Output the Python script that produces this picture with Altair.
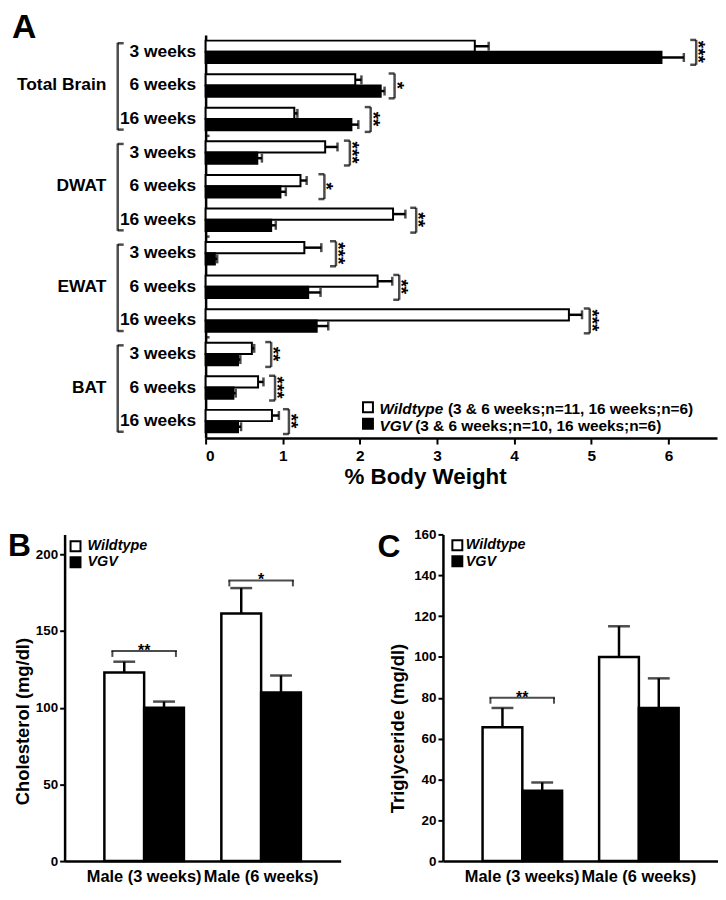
import altair as alt
import pandas as pd

FONT = "Liberation Sans"

# ---------------- Panel A data ----------------
tissues = ["Total Brain", "DWAT", "EWAT", "BAT"]
ages = ["3 weeks", "6 weeks", "16 weeks"]
genos = ["Wildtype", "VGV"]
wt_mean = [3.49, 1.94, 1.15, 1.55, 1.23, 2.43, 1.28, 2.23, 4.71, 0.60, 0.68, 0.86]
wt_sem = [0.18, 0.08, 0.04, 0.16, 0.08, 0.16, 0.22, 0.19, 0.17, 0.03, 0.07, 0.09]
vgv_mean = [5.91, 2.27, 1.89, 0.67, 0.97, 0.85, 0.12, 1.33, 1.44, 0.42, 0.36, 0.42]
vgv_sem = [0.29, 0.05, 0.09, 0.06, 0.07, 0.06, 0.03, 0.16, 0.15, 0.03, 0.03, 0.04]
sig_a = ["***", "*", "**", "***", "*", "**", "***", "**", "***", "**", "***", "**"]
sig_a_x = [6.36, 2.45, 2.14, 1.87, 1.54, 2.73, 1.69, 2.51, 4.98, 0.85, 0.90, 1.08]
x_ticks_a = [0, 1, 2, 3, 4, 5, 6]
leg_a_names = ["Wildtype", "VGV"]
leg_a_notes = ["(3 & 6 weeks;n=11, 16 weeks;n=6)", "(3 & 6 weeks;n=10, 16 weeks;n=6)"]

# ---------------- Panel B / C data ----------------
groups = ["Male (3 weeks)", "Male (6 weeks)"]
chol_wt = [123, 161.5]
chol_wt_sem = [7, 16.5]
chol_vgv = [100, 110]
chol_vgv_sem = [4, 11]
chol_sig_groups = ["Male (3 weeks)", "Male (6 weeks)"]
chol_sig_y = [137, 183]
chol_sig = ["**", "*"]
chol_ticks = [0, 50, 100, 150, 200]

tg_wt = [65.5, 100]
tg_wt_sem = [9.5, 15]
tg_vgv = [34.5, 75]
tg_vgv_sem = [4, 14.5]
tg_sig_groups = ["Male (3 weeks)"]
tg_sig_y = [80]
tg_sig = ["**"]
tg_ticks = [0, 20, 40, 60, 80, 100, 120, 140, 160]

# ---------------- Panel A ----------------
A_W, A_H = 515, 406
rows = [f"{t}|{a}" for t in tissues for a in ages]
recs = []
for i, r in enumerate(rows):
    recs.append(dict(row=r, genotype="Wildtype", value=wt_mean[i], upper=wt_mean[i] + wt_sem[i]))
    recs.append(dict(row=r, genotype="VGV", value=vgv_mean[i], upper=vgv_mean[i] + vgv_sem[i]))
dfA = pd.DataFrame(recs)
dfA_sig = pd.DataFrame(dict(row=rows, sig_x=sig_a_x, stars=sig_a))
dfA_grp = pd.DataFrame(dict(row=[f"{t}|6 weeks" for t in tissues], group=tissues))
dfA_sep = pd.DataFrame(dict(row=[f"{t}|16 weeks" for t in tissues[:3]], zero=[0, 0, 0]))

scaleA_y = alt.Scale(domain=rows, paddingInner=0.33, paddingOuter=0.17)
axisA_y = alt.Axis(title=None, labelExpr="split(datum.label, '|')[1]", ticks=False,
                   labelPadding=10, labelFontSize=17.5)
scaleA_x = alt.Scale(domain=[0, 6.63], nice=False, zero=True)
axisA_x = alt.Axis(values=x_ticks_a, tickSize=6, labelPadding=5, labelFontSize=15.5,
                   title="% Body Weight", titleFontSize=22.5, titleX=221, titleY=28,
                   titleBaseline="top", titleAlign="center")


def yA():
    return alt.Y("row:N", scale=scaleA_y, axis=axisA_y, title=None)


def xA(field):
    return alt.X(f"{field}:Q", scale=scaleA_x, axis=axisA_x, title="% Body Weight")


yoffA = alt.YOffset("genotype:N", scale=alt.Scale(domain=genos, paddingInner=0, paddingOuter=0))
fill_scale = alt.Scale(domain=genos, range=["white", "black"])

barsA = alt.Chart(dfA).mark_bar(stroke="black", strokeWidth=2).encode(
    x=xA("value"), y=yA(), yOffset=yoffA,
    fill=alt.Fill("genotype:N", scale=fill_scale, legend=None))
errA = alt.Chart(dfA).mark_rule(color="black", strokeWidth=2.5).encode(
    x=xA("value"), x2="upper", y=yA(), yOffset=yoffA)
capA = alt.Chart(dfA).mark_tick(orient="vertical", color="black", size=9, thickness=2.5).encode(
    x=xA("upper"), y=yA(), yOffset=yoffA)

sigA_v = alt.Chart(dfA_sig).mark_tick(orient="vertical", color="black", size=25, thickness=2.5,
                                      yOffset=0.5).encode(x=xA("sig_x"), y=yA())
sigA_t = alt.Chart(dfA_sig).mark_tick(orient="horizontal", color="black", size=6, thickness=2.5,
                                      xOffset=-3, yOffset=-12).encode(x=xA("sig_x"), y=yA())
sigA_b = alt.Chart(dfA_sig).mark_tick(orient="horizontal", color="black", size=6, thickness=2.5,
                                      xOffset=-3, yOffset=13).encode(x=xA("sig_x"), y=yA())
sigA_s = alt.Chart(dfA_sig).mark_text(angle=90, fontSize=19, fontWeight="bold", font=FONT,
                                      color="black", align="center", baseline="middle",
                                      xOffset=2).encode(x=xA("sig_x"), y=yA(), text="stars:N")
sepA = alt.Chart(dfA_sep).mark_tick(orient="horizontal", color="black", size=4, thickness=2.5,
                                    xOffset=2, yOffset=17).encode(x=xA("zero"), y=yA())

grp_text = alt.Chart(dfA_grp).mark_text(align="right", baseline="middle", fontSize=17.5,
                                        fontWeight="bold", font=FONT, color="black").encode(
    x=alt.value(-100), y=yA(), text="group:N")
grp_v = alt.Chart(dfA_grp).mark_tick(orient="vertical", color="black", size=88, thickness=2.5,
                                     yOffset=1).encode(x=alt.value(-88.5), y=yA())
grp_t = alt.Chart(dfA_grp).mark_tick(orient="horizontal", color="black", size=6, thickness=2.5,
                                     yOffset=-42.5).encode(x=alt.value(-85.5), y=yA())
grp_b = alt.Chart(dfA_grp).mark_tick(orient="horizontal", color="black", size=6, thickness=2.5,
                                     yOffset=44.5).encode(x=alt.value(-85.5), y=yA())


def legend_layers(names, notes, sq_x, sq_ys, name_x, note_xs, text_ys, fsize):
    layers = []
    fills = ["white", "black"]
    for k, nm in enumerate(names):
        d = pd.DataFrame({"t": [nm]})
        layers.append(alt.Chart(d).mark_square(size=100, filled=True, fill=fills[k], stroke="black",
                                               strokeWidth=2, opacity=1).encode(
            x=alt.value(sq_x), y=alt.value(sq_ys[k])))
        layers.append(alt.Chart(d).mark_text(align="left", baseline="middle", fontSize=fsize,
                                             fontWeight="bold", fontStyle="italic", font=FONT,
                                             color="black").encode(
            x=alt.value(name_x), y=alt.value(text_ys[k]), text="t:N"))
        if notes is not None:
            dn = pd.DataFrame({"t": [notes[k]]})
            layers.append(alt.Chart(dn).mark_text(align="left", baseline="middle", fontSize=fsize,
                                                  fontWeight="bold", font=FONT, color="black").encode(
                x=alt.value(note_xs[k]), y=alt.value(text_ys[k]), text="t:N"))
    return layers


legA = legend_layers(leg_a_names, leg_a_notes, 163.5, [375, 391.5], 175, [244, 211], [376.5, 393.5], 15.5)

plotA = alt.layer(barsA, errA, capA, sigA_v, sigA_t, sigA_b, sigA_s, sepA,
                  grp_text, grp_v, grp_t, grp_b, *legA).properties(width=A_W, height=A_H)

spacer = alt.Chart(pd.DataFrame({"t": ["A"]})).mark_text(
    align="left", baseline="alphabetic", fontSize=34, fontWeight="bold", font=FONT,
    color="black").encode(text="t:N", x=alt.value(-53), y=alt.value(3)).properties(width=39, height=A_H)


# ---------------- Panels B and C ----------------
def small_panel(wt, wt_sem, vgv, vgv_sem, sig_groups, sig_y, sig_stars, ymax, yticks, ytitle,
                title_x, title_y, letter, letter_x, letter_y, leg_sq_x, leg_sq_ys, leg_tx, leg_tys,
                width, height):
    recs = []
    for i, g in enumerate(groups):
        recs.append(dict(group=g, genotype="Wildtype", value=wt[i], upper=wt[i] + wt_sem[i]))
        recs.append(dict(group=g, genotype="VGV", value=vgv[i], upper=vgv[i] + vgv_sem[i]))
    df = pd.DataFrame(recs)
    dsig = pd.DataFrame(dict(group=sig_groups, y=sig_y, stars=sig_stars))

    xs = alt.Scale(domain=groups, paddingInner=0.32, paddingOuter=0.34)
    xax = alt.Axis(title=None, labelAngle=0, ticks=False, labelPadding=8, labelFontSize=16.5)

    def xb():
        return alt.X("group:N", scale=xs, axis=xax, title=None)

    ys = alt.Scale(domain=[0, ymax], nice=False, zero=True)
    yax = alt.Axis(values=yticks, tickSize=5, labelPadding=2, labelFontSize=13.5, title=ytitle,
                   titleFontSize=18.5, titleX=title_x, titleY=title_y, titleBaseline="middle",
                   titleAlign="center", titleAngle=270)

    def yq(f):
        return alt.Y(f"{f}:Q", scale=ys, axis=yax, title=ytitle)

    xoff = alt.XOffset("genotype:N", scale=alt.Scale(domain=genos, paddingInner=0, paddingOuter=0))

    bars = alt.Chart(df).mark_bar(stroke="black", strokeWidth=2.5).encode(
        x=xb(), xOffset=xoff, y=yq("value"),
        fill=alt.Fill("genotype:N", scale=fill_scale, legend=None))
    err = alt.Chart(df).mark_rule(color="black", strokeWidth=2.5).encode(
        x=xb(), xOffset=xoff, y=yq("value"), y2="upper")
    cap = alt.Chart(df).mark_tick(orient="horizontal", color="black", size=22, thickness=2.5).encode(
        x=xb(), xOffset=xoff, y=yq("upper"))
    s_h = alt.Chart(dsig).mark_tick(orient="horizontal", color="black", size=66, thickness=2).encode(
        x=xb(), y=yq("y"))
    s_l = alt.Chart(dsig).mark_tick(orient="vertical", color="black", size=6, thickness=2,
                                    xOffset=-32, yOffset=3).encode(x=xb(), y=yq("y"))
    s_r = alt.Chart(dsig).mark_tick(orient="vertical", color="black", size=6, thickness=2,
                                    xOffset=32, yOffset=3).encode(x=xb(), y=yq("y"))
    s_t = alt.Chart(dsig).mark_text(fontSize=16, fontWeight="bold", font=FONT, color="black",
                                    align="center", baseline="alphabetic", dy=5).encode(
        x=xb(), y=yq("y"), text="stars:N")
    lab = alt.Chart(pd.DataFrame({"t": [letter]})).mark_text(
        align="left", baseline="middle", fontSize=32, fontWeight="bold", font=FONT,
        color="black").encode(text="t:N", x=alt.value(letter_x), y=alt.value(letter_y))
    leg = legend_layers(leg_a_names, None, leg_sq_x, leg_sq_ys, leg_tx, None, leg_tys, 14.5)
    return alt.layer(bars, err, cap, s_h, s_l, s_r, s_t, lab, *leg).properties(width=width, height=height)


BC_H = 329
plotB = small_panel(chol_wt, chol_wt_sem, chol_vgv, chol_vgv_sem, chol_sig_groups, chol_sig_y,
                    chol_sig, 213, chol_ticks, "Cholesterol (mg/dl)", -42, 188, "B", -57, 11.5,
                    11, [12, 28], 23, [12, 28], 278, BC_H)
plotC = small_panel(tg_wt, tg_wt_sem, tg_vgv, tg_vgv_sem, tg_sig_groups, tg_sig_y, tg_sig,
                    160, tg_ticks, "Triglyceride (mg/dl)", -46, 195, "C", -66, 13,
                    14.5, [11, 27], 23, [11, 28], 277, BC_H)

row1 = alt.hconcat(spacer, plotA, spacing=103, bounds="flush")
row2 = alt.hconcat(plotB, plotC, spacing=103, bounds="flush")

chart = alt.vconcat(row1, row2, spacing=39, padding=0).configure_view(stroke=None).configure_axis(
    domainColor="black", domainWidth=2.5, tickColor="black", tickWidth=2,
    labelColor="black", titleColor="black", labelFont=FONT, titleFont=FONT,
    labelFontWeight="bold", titleFontWeight="bold", grid=False,
)

chart.save("out.html", embed_options={"renderer": "svg", "actions": False})
